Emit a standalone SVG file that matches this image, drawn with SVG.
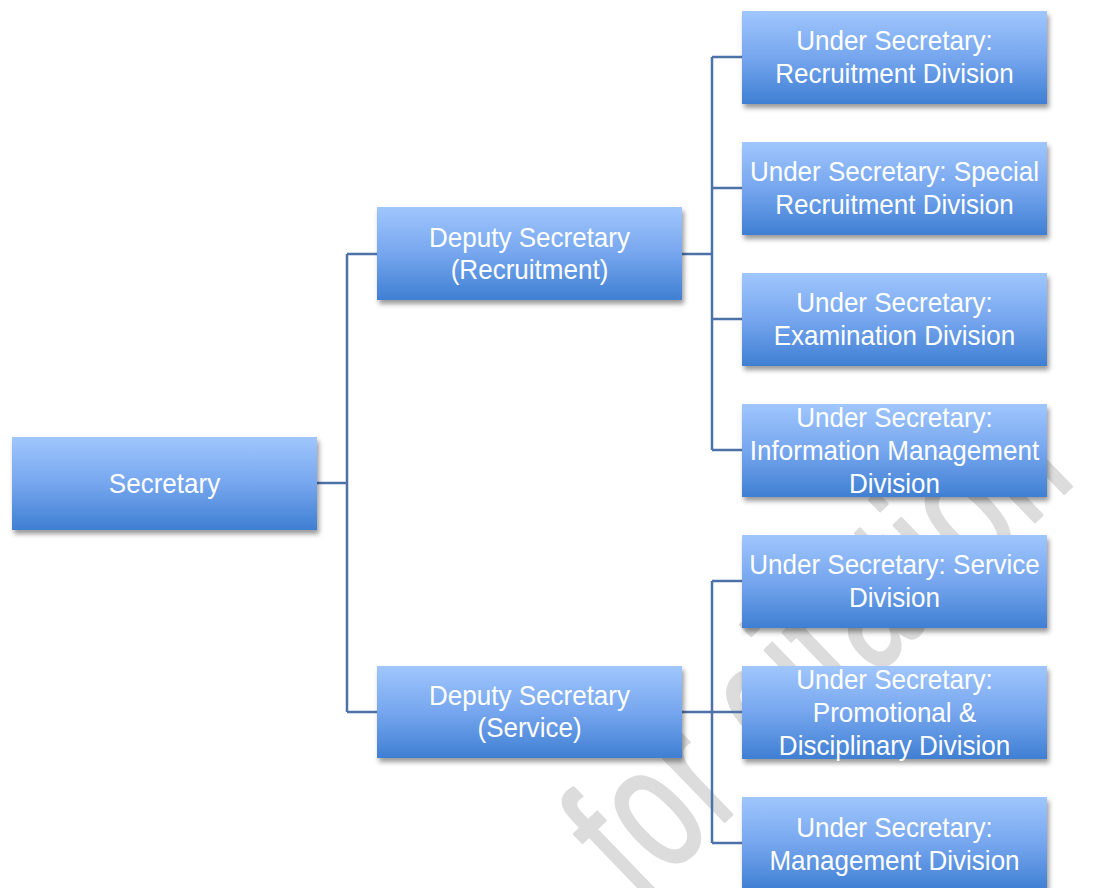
<svg xmlns="http://www.w3.org/2000/svg" width="1099" height="888" viewBox="0 0 1099 888">
  <defs>
    <linearGradient id="boxFill" x1="0" y1="0" x2="0" y2="1">
      <stop offset="0" stop-color="#a0c6fd"/>
      <stop offset="0.5" stop-color="#76a6ee"/>
      <stop offset="1" stop-color="#3f7fd3"/>
    </linearGradient>
    <filter id="boxShadow" x="-10%" y="-20%" width="120%" height="150%">
      <feDropShadow dx="2" dy="4" stdDeviation="2.5" flood-color="#000" flood-opacity="0.4"/>
    </filter>
  </defs>
  <style>
    .box { fill: url(#boxFill); filter: url(#boxShadow); }
    .label { font-family: "Liberation Sans", Arial, sans-serif; font-size: 28px; fill: #ffffff; text-anchor: middle; }
    .link { fill: none; stroke: #4d72a8; stroke-width: 2.5; }
    .mark { font-family: "Liberation Sans", Arial, sans-serif; font-size: 180px; letter-spacing: 6px; fill: #dcdcdc; stroke: #dcdcdc; stroke-width: 3; stroke-linejoin: round; stroke-linecap: round; }
  </style>

  <rect width="1099" height="888" fill="#ffffff"/>

  <!-- background watermark -->
  <text class="mark" transform="translate(639 904) rotate(-44) scale(0.68 1)">for citation</text>

  <!-- connectors -->
  <g id="connectors">
    <path class="link" d="M317 483H347M347 254V712M347 254H377M347 712H377"/>
    <path class="link" d="M682 254H712M712 57V450M712 57H742M712 188H742M712 319H742M712 450H742"/>
    <path class="link" d="M682 712H712M712 581V843M712 581H742M712 712H742M712 843H742"/>
  </g>

  <!-- labels use a slightly condensed face: scale(0.93 1) -->
  <g id="secretary">
    <rect class="box" x="12" y="437" width="305" height="93"/>
    <text class="label" transform="translate(164.5 493) scale(0.93 1)">Secretary</text>
  </g>

  <g id="deputy-recruitment">
    <rect class="box" x="377" y="207" width="305" height="93"/>
    <text class="label" transform="translate(529.5 247) scale(0.93 1)">Deputy Secretary</text>
    <text class="label" transform="translate(529.5 279) scale(0.93 1)">(Recruitment)</text>
  </g>

  <g id="deputy-service">
    <rect class="box" x="377" y="666" width="305" height="92"/>
    <text class="label" transform="translate(529.5 705) scale(0.93 1)">Deputy Secretary</text>
    <text class="label" transform="translate(529.5 737) scale(0.93 1)">(Service)</text>
  </g>

  <g id="us-recruitment">
    <rect class="box" x="742" y="11" width="305" height="93"/>
    <text class="label" transform="translate(894.5 50) scale(0.93 1)">Under Secretary:</text>
    <text class="label" transform="translate(894.5 83) scale(0.93 1)">Recruitment Division</text>
  </g>

  <g id="us-special-recruitment">
    <rect class="box" x="742" y="142" width="305" height="93"/>
    <text class="label" transform="translate(894.5 181) scale(0.93 1)">Under Secretary: Special</text>
    <text class="label" transform="translate(894.5 214) scale(0.93 1)">Recruitment Division</text>
  </g>

  <g id="us-examination">
    <rect class="box" x="742" y="273" width="305" height="93"/>
    <text class="label" transform="translate(894.5 312) scale(0.93 1)">Under Secretary:</text>
    <text class="label" transform="translate(894.5 345) scale(0.93 1)">Examination Division</text>
  </g>

  <g id="us-information-management">
    <rect class="box" x="742" y="404" width="305" height="93"/>
    <text class="label" transform="translate(894.5 427) scale(0.93 1)">Under Secretary:</text>
    <text class="label" transform="translate(894.5 460) scale(0.93 1)">Information Management</text>
    <text class="label" transform="translate(894.5 493) scale(0.93 1)">Division</text>
  </g>

  <g id="us-service">
    <rect class="box" x="742" y="535" width="305" height="93"/>
    <text class="label" transform="translate(894.5 574) scale(0.93 1)">Under Secretary: Service</text>
    <text class="label" transform="translate(894.5 607) scale(0.93 1)">Division</text>
  </g>

  <g id="us-promotional-disciplinary">
    <rect class="box" x="742" y="666" width="305" height="93"/>
    <text class="label" transform="translate(894.5 689) scale(0.93 1)">Under Secretary:</text>
    <text class="label" transform="translate(894.5 722) scale(0.93 1)">Promotional &amp;</text>
    <text class="label" transform="translate(894.5 755) scale(0.93 1)">Disciplinary Division</text>
  </g>

  <g id="us-management">
    <rect class="box" x="742" y="797" width="305" height="93"/>
    <text class="label" transform="translate(894.5 837) scale(0.93 1)">Under Secretary:</text>
    <text class="label" transform="translate(894.5 870) scale(0.93 1)">Management Division</text>
  </g>
</svg>
